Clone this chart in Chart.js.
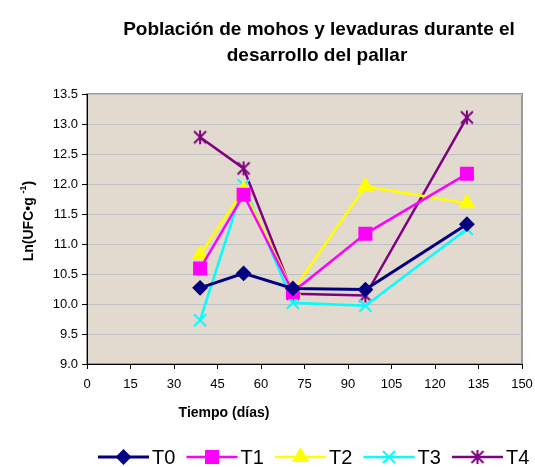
<!DOCTYPE html>
<html>
<head>
<meta charset="utf-8">
<script src="https://cdn.jsdelivr.net/npm/chart.js@4/dist/chart.umd.min.js"></script>
<style>
  html, body { margin: 0; padding: 0; background: #fff; }
  #wrap { width: 535px; height: 467px; }
</style>
</head>
<body>
<div id="wrap"><canvas id="c" width="535" height="467"></canvas></div>
<script>
const days = [39, 54, 71, 96, 131];
const seriesNames = ['T0', 'T1', 'T2', 'T3', 'T4'];
const t0 = [10.27, 10.51, 10.26, 10.24, 11.33];
const t1 = [10.59, 11.82, 10.20, 11.17, 12.17];
const t2 = [10.82, 11.90, 10.22, 11.96, 11.68];
const t3 = [9.73, 11.98, 10.02, 9.97, 11.25];
const t4 = [12.78, 12.26, 10.17, 10.14, 13.11];
const titleLines = ['Población de mohos y levaduras durante el', 'desarrollo del pallar'];
const xTitle = 'Tiempo (días)';
const yTitleMain = 'Ln(UFC•g';
const yTitleSup = '-1';
const yTitleEnd = ')';

// Excel style asterisk: an x with a vertical bar through it
function asterisk(color) {
    const c = document.createElement('canvas');
    c.width = 16;
    c.height = 16;
    const g = c.getContext('2d');
    g.strokeStyle = color;
    g.lineWidth = 2;
    g.beginPath();
    g.moveTo(2, 2); g.lineTo(14, 14);
    g.moveTo(14, 2); g.lineTo(2, 14);
    g.moveTo(8, 1); g.lineTo(8, 15);
    g.stroke();
    return c;
}

const styles = [
    { color: '#000080', pointStyle: 'rectRot', radius: 6.5, width: 3 },
    { color: '#FF00FF', pointStyle: 'rect', radius: 8.5, width: 2.5 },
    { color: '#FFFF00', pointStyle: 'triangle', radius: 8, width: 2.5 },
    { color: '#00FFFF', pointStyle: 'crossRot', radius: 8.5, width: 2.5 },
    { color: '#800080', pointStyle: asterisk('#800080'), radius: 8, width: 2.5 },
];

const values = [t0, t1, t2, t3, t4];
const datasets = values.map((vals, i) => ({
    label: seriesNames[i],
    data: vals.map((v, j) => ({ x: days[j], y: v })),
    borderColor: styles[i].color,
    backgroundColor: styles[i].color,
    borderWidth: styles[i].width,
    pointStyle: styles[i].pointStyle,
    pointRadius: styles[i].radius,
    pointHoverRadius: styles[i].radius,
    pointBorderWidth: 2,
    tension: 0,
}));

const FONT = '"Liberation Sans", Arial, sans-serif';

const decor = {
    id: 'decor',
    beforeDraw(chart) {
        const { ctx, chartArea: a } = chart;
        ctx.save();
        ctx.fillStyle = '#E2DACE';
        ctx.fillRect(a.left, a.top, a.right - a.left, a.bottom - a.top);
        ctx.strokeStyle = '#9a9a9a';
        ctx.lineWidth = 2;
        ctx.strokeRect(a.left, a.top, a.right - a.left, a.bottom - a.top);
        ctx.restore();
    },
    afterDraw(chart) {
        const { ctx } = chart;
        ctx.save();
        ctx.fillStyle = '#000';
        ctx.textAlign = 'center';
        ctx.textBaseline = 'middle';
        ctx.font = 'bold 19px ' + FONT;
        ctx.fillText(titleLines[0], 319, 30);
        ctx.fillText(titleLines[1], 317, 56);

        ctx.font = 'bold 14px ' + FONT;
        ctx.fillText(xTitle, 224, 413);

        // rotated y title with superscript
        ctx.save();
        ctx.translate(28, 221);
        ctx.rotate(-Math.PI / 2);
        ctx.textAlign = 'left';
        ctx.textBaseline = 'alphabetic';
        ctx.font = 'bold 14px ' + FONT;
        const wMain = ctx.measureText(yTitleMain + ' ').width;
        ctx.font = 'bold 9px ' + FONT;
        const wSup = ctx.measureText(yTitleSup).width;
        ctx.font = 'bold 14px ' + FONT;
        const wEnd = ctx.measureText(yTitleEnd).width;
        let x = -(wMain + wSup + wEnd) / 2;
        ctx.fillText(yTitleMain, x, 5);
        x += wMain;
        ctx.font = 'bold 9px ' + FONT;
        ctx.fillText(yTitleSup, x, -2);
        x += wSup;
        ctx.font = 'bold 14px ' + FONT;
        ctx.fillText(yTitleEnd, x, 5);
        ctx.restore();

        // legend: line - marker - line, then label
        const startX = 98, step = 88.5, y = 457;
        ctx.font = '20px ' + FONT;
        ctx.textAlign = 'left';
        ctx.textBaseline = 'middle';
        seriesNames.forEach((name, i) => {
            const s = styles[i];
            const x0 = startX + i * step;
            ctx.strokeStyle = s.color;
            ctx.fillStyle = s.color;
            ctx.lineWidth = s.width;
            ctx.beginPath();
            ctx.moveTo(x0, y);
            ctx.lineTo(x0 + 51, y);
            ctx.stroke();
            ctx.lineWidth = 2;
            Chart.helpers.drawPoint(ctx, {
                pointStyle: s.pointStyle, radius: s.radius, borderWidth: 2, rotation: 0
            }, x0 + 25.5, y);
            ctx.fillStyle = '#000';
            ctx.fillText(name, x0 + 54, y + 1);
        });
        ctx.restore();
    }
};

new Chart(document.getElementById('c'), {
    type: 'line',
    data: { datasets },
    options: {
        responsive: false,
        animation: false,
        layout: { padding: { top: 94, right: 13, left: 0, bottom: 0 } },
        plugins: {
            legend: { display: false },
            title: { display: false },
            tooltip: { enabled: false },
        },
        scales: {
            x: {
                type: 'linear',
                min: 0,
                max: 150,
                ticks: { stepSize: 15, color: '#000', font: { family: FONT, size: 13 }, padding: 8, maxRotation: 0 },
                grid: { drawOnChartArea: false, tickLength: 5, tickColor: '#000' },
                border: { color: '#000', width: 1 },
                afterFit(scale) {
                    scale.height = 103;
                    scale.paddingLeft = 0;
                    scale.paddingRight = 0;
                },
            },
            y: {
                min: 9,
                max: 13.5,
                ticks: {
                    stepSize: 0.5, color: '#000', font: { family: FONT, size: 13 }, padding: 4,
                    callback: v => v.toFixed(1),
                },
                grid: { color: '#c0c0c8', lineWidth: 1, tickLength: 5, tickColor: '#000' },
                border: { color: '#000', width: 1 },
                afterFit(scale) {
                    scale.width = 87;
                    scale.paddingTop = 0;
                    scale.paddingBottom = 0;
                },
            },
        },
    },
    plugins: [decor],
});
</script>
</body>
</html>
